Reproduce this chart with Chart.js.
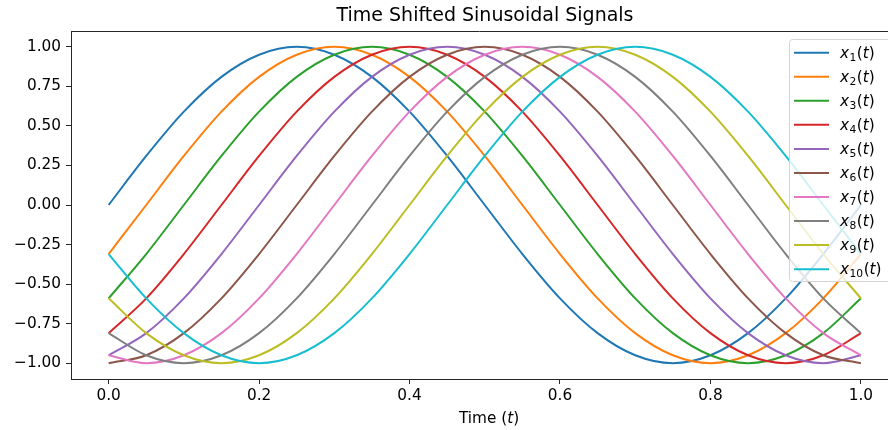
<!DOCTYPE html>
<html>
<head>
<meta charset="utf-8">
<script src="https://cdn.jsdelivr.net/npm/chart.js@4.4.1/dist/chart.umd.min.js"></script>
<style>
  html, body { margin: 0; padding: 0; background: #fff; }
</style>
</head>
<body>
<canvas id="sigChart" width="888" height="430"></canvas>
<script>
const times = [0, 0.05, 0.10, 0.15, 0.20, 0.25, 0.30, 0.35, 0.40, 0.45, 0.50,
               0.55, 0.60, 0.65, 0.70, 0.75, 0.80, 0.85, 0.90, 0.95, 1.00];

const x1  = [0, 0.31, 0.59, 0.81, 0.95, 1, 0.95, 0.81, 0.59, 0.31, 0, -0.31, -0.59, -0.81, -0.95, -1, -0.95, -0.81, -0.59, -0.31, 0];
const x2  = [-0.31, 0, 0.31, 0.59, 0.81, 0.95, 1, 0.95, 0.81, 0.59, 0.31, 0, -0.31, -0.59, -0.81, -0.95, -1, -0.95, -0.81, -0.59, -0.31];
const x3  = [-0.59, -0.31, 0, 0.31, 0.59, 0.81, 0.95, 1, 0.95, 0.81, 0.59, 0.31, 0, -0.31, -0.59, -0.81, -0.95, -1, -0.95, -0.81, -0.59];
const x4  = [-0.81, -0.59, -0.31, 0, 0.31, 0.59, 0.81, 0.95, 1, 0.95, 0.81, 0.59, 0.31, 0, -0.31, -0.59, -0.81, -0.95, -1, -0.95, -0.81];
const x5  = [-0.95, -0.81, -0.59, -0.31, 0, 0.31, 0.59, 0.81, 0.95, 1, 0.95, 0.81, 0.59, 0.31, 0, -0.31, -0.59, -0.81, -0.95, -1, -0.95];
const x6  = [-1, -0.95, -0.81, -0.59, -0.31, 0, 0.31, 0.59, 0.81, 0.95, 1, 0.95, 0.81, 0.59, 0.31, 0, -0.31, -0.59, -0.81, -0.95, -1];
const x7  = [-0.95, -1, -0.95, -0.81, -0.59, -0.31, 0, 0.31, 0.59, 0.81, 0.95, 1, 0.95, 0.81, 0.59, 0.31, 0, -0.31, -0.59, -0.81, -0.95];
const x8  = [-0.81, -0.95, -1, -0.95, -0.81, -0.59, -0.31, 0, 0.31, 0.59, 0.81, 0.95, 1, 0.95, 0.81, 0.59, 0.31, 0, -0.31, -0.59, -0.81];
const x9  = [-0.59, -0.81, -0.95, -1, -0.95, -0.81, -0.59, -0.31, 0, 0.31, 0.59, 0.81, 0.95, 1, 0.95, 0.81, 0.59, 0.31, 0, -0.31, -0.59];
const x10 = [-0.31, -0.59, -0.81, -0.95, -1, -0.95, -0.81, -0.59, -0.31, 0, 0.31, 0.59, 0.81, 0.95, 1, 0.95, 0.81, 0.59, 0.31, 0, -0.31];

const series = [x1, x2, x3, x4, x5, x6, x7, x8, x9, x10];
const subscripts = ['1', '2', '3', '4', '5', '6', '7', '8', '9', '10'];
const colors = ['#1f77b4', '#ff7f0e', '#2ca02c', '#d62728', '#9467bd',
                '#8c564b', '#e377c2', '#7f7f7f', '#bcbd22', '#17becf'];

const xTicks = [0, 0.2, 0.4, 0.6, 0.8, 1.0];
const yTicks = [-1, -0.75, -0.5, -0.25, 0, 0.25, 0.5, 0.75, 1];
const chartTitle = 'Time Shifted Sinusoidal Signals';

const FONT = '"DejaVu Sans"';
const axisColor = '#262626';

// title, x label, top spine and the legend are drawn by hand (matplotlib look)
const decor = {
  id: 'decor',
  afterDraw(chart) {
    const ctx = chart.ctx;
    const area = chart.chartArea;
    ctx.save();

    // top spine
    ctx.strokeStyle = axisColor;
    ctx.lineWidth = 1;
    ctx.beginPath();
    ctx.moveTo(area.left, area.top + 0.5);
    ctx.lineTo(area.right, area.top + 0.5);
    ctx.stroke();

    ctx.fillStyle = '#000';
    ctx.textBaseline = 'alphabetic';

    // title
    ctx.font = '19px ' + FONT;
    ctx.textAlign = 'center';
    ctx.fillText(chartTitle, 485, 21);

    // x label: Time (t)
    ctx.textAlign = 'left';
    const parts = [['Time (', ''], ['t', 'italic '], [')', '']];
    let w = 0;
    parts.forEach(p => { ctx.font = p[1] + '15.3px ' + FONT; w += ctx.measureText(p[0]).width; });
    let lx = 489 - w / 2;
    parts.forEach(p => {
      ctx.font = p[1] + '15.3px ' + FONT;
      ctx.fillText(p[0], lx, 423);
      lx += ctx.measureText(p[0]).width;
    });

    // legend
    const bx = 789.5, by = 39.5, bw = 130, bh = 242;
    ctx.beginPath();
    if (ctx.roundRect) ctx.roundRect(bx, by, bw, bh, 3); else ctx.rect(bx, by, bw, bh);
    ctx.fillStyle = 'rgba(255,255,255,0.8)';
    ctx.fill();
    ctx.strokeStyle = '#d4d4d4';
    ctx.stroke();

    chart.data.datasets.forEach((d, k) => {
      const y = 52.7 + k * 24.05;
      ctx.strokeStyle = d.borderColor;
      ctx.lineWidth = 2;
      ctx.beginPath();
      ctx.moveTo(794, y);
      ctx.lineTo(829, y);
      ctx.stroke();

      ctx.fillStyle = '#000';
      let tx = 840;
      const base = y + 5;
      ctx.font = 'italic 15.3px ' + FONT;
      ctx.fillText('x', tx, base);
      tx += ctx.measureText('x').width + 0.5;
      ctx.font = '10.7px ' + FONT;
      ctx.fillText(d.sub, tx, base + 3);
      tx += ctx.measureText(d.sub).width + 0.5;
      ctx.font = '15.3px ' + FONT;
      ctx.fillText('(', tx, base);
      tx += ctx.measureText('(').width;
      ctx.font = 'italic 15.3px ' + FONT;
      ctx.fillText('t', tx, base);
      tx += ctx.measureText('t').width;
      ctx.font = '15.3px ' + FONT;
      ctx.fillText(')', tx, base);
    });

    ctx.restore();
  }
};

const ctx = document.getElementById('sigChart').getContext('2d');

const chart = new Chart(ctx, {
  type: 'line',
  data: {
    datasets: series.map((vals, k) => ({
      label: 'x' + subscripts[k] + '(t)',
      sub: subscripts[k],
      data: vals.map((v, i) => ({ x: times[i], y: v })),
      borderColor: colors[k],
      backgroundColor: colors[k],
      borderWidth: 2,
      pointRadius: 0,
      fill: false,
      cubicInterpolationMode: 'monotone',
      order: series.length - k
    }))
  },
  options: {
    responsive: false,
    animation: false,
    devicePixelRatio: 1,
    layout: { padding: { top: 31, right: 0, bottom: 0, left: 0 } },
    plugins: {
      legend: { display: false },
      title: { display: false },
      tooltip: { enabled: false }
    },
    scales: {
      x: {
        type: 'linear',
        min: -0.05,
        max: 1.036,
        afterBuildTicks: axis => { axis.ticks = xTicks.map(v => ({ value: v })); },
        afterFit: axis => { axis.height = 51; },
        ticks: {
          callback: v => v.toFixed(1),
          color: '#000',
          font: { family: 'DejaVu Sans', size: 15.3 },
          maxRotation: 0,
          autoSkip: false,
          padding: 3
        },
        grid: { drawOnChartArea: false, drawTicks: true, tickLength: 5, tickColor: axisColor, tickWidth: 1 },
        border: { display: true, color: axisColor, width: 1 }
      },
      y: {
        min: -1.1,
        max: 1.1,
        afterBuildTicks: axis => { axis.ticks = yTicks.map(v => ({ value: v })); },
        afterFit: axis => { axis.width = 71; },
        ticks: {
          callback: v => (v < 0 ? '\u2212' : '') + Math.abs(v).toFixed(2),
          color: '#000',
          font: { family: 'DejaVu Sans', size: 15.3 },
          autoSkip: false,
          padding: 5
        },
        grid: { drawOnChartArea: false, drawTicks: true, tickLength: 5, tickColor: axisColor, tickWidth: 1 },
        border: { display: true, color: axisColor, width: 1 }
      }
    }
  },
  plugins: [decor]
});
</script>
</body>
</html>
